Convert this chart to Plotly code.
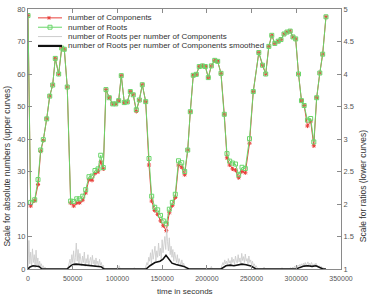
import plotly.graph_objects as go

# ---------------- data ----------------
time_s = [0, 3000, 7500, 11200, 14200, 17100, 20900, 24300, 27600, 30500,
          34300, 37700, 40600, 43900, 47700, 51100, 54500, 57800, 61200, 64500,
          68200, 71600, 74900, 78300, 81300, 84200, 87200, 90900, 94700, 98100,
          101400, 104300, 107700, 111000, 114400, 117700, 121100, 124500, 127800, 131600,
          135300, 138300, 141700, 145000, 148200, 151300, 154600, 158000, 161400, 164700,
          168300, 171900, 175200, 178600, 181500, 184800, 188200, 191500, 195100, 198300,
          201600, 205000, 208800, 212100, 215800, 219500, 222500, 225500, 228700, 232000,
          235600, 239300, 243000, 247700, 251900, 258100, 262200, 265800, 269300, 272600,
          276000, 279800, 282900, 286300, 289600, 293200, 296300, 299300, 302500, 305800,
          308800, 312500, 316100, 319600, 322800, 326300, 329500, 333200]

components = [78.0, 19.4, 21.0, 26.0, 36.2, 39.6, 46.2, 53.2, 56.6, 64.8,
              60.0, 68.0, 67.6, 56.0, 20.3, 19.4, 20.3, 20.4, 21.2, 23.4,
              27.5, 27.3, 29.4, 29.9, 33.0, 30.8, 55.2, 52.7, 50.8, 50.8,
              51.8, 59.5, 51.2, 51.4, 54.6, 53.6, 48.5, 52.0, 56.7, 51.5,
              32.0, 20.9, 18.0, 16.8, 14.8, 13.3, 11.8, 17.3, 19.5, 22.0,
              32.0, 31.3, 29.0, 36.6, 48.4, 59.6, 59.9, 62.3, 62.5, 62.3,
              58.9, 62.5, 64.2, 63.9, 60.2, 47.6, 34.2, 32.0, 30.8, 30.4,
              28.1, 30.0, 29.6, 38.7, 54.6, 66.6, 62.7, 60.0, 68.5, 71.9,
              69.4, 70.1, 70.6, 72.3, 72.9, 73.2, 71.4, 70.8, 60.0, 51.8,
              50.3, 44.0, 45.5, 37.9, 52.7, 60.3, 66.1, 77.6]

roots = [78.0, 20.5, 21.3, 27.5, 36.6, 39.8, 46.2, 53.2, 56.6, 64.8,
         60.0, 68.0, 67.6, 56.0, 20.9, 20.8, 21.6, 21.6, 22.4, 24.4,
         28.4, 28.6, 30.3, 30.8, 35.0, 31.2, 55.2, 52.7, 50.8, 50.8,
         51.8, 59.5, 51.2, 51.4, 54.6, 53.6, 49.0, 52.0, 56.7, 51.5,
         34.0, 22.4, 19.0, 18.2, 16.5, 14.8, 13.9, 18.4, 20.5, 23.0,
         33.3, 32.7, 30.0, 36.6, 48.4, 59.6, 59.9, 62.3, 62.5, 62.3,
         58.9, 62.5, 64.2, 63.9, 60.2, 47.6, 35.5, 33.2, 32.6, 32.3,
         29.0, 31.3, 30.9, 40.1, 54.6, 66.6, 62.7, 60.0, 68.5, 71.9,
         69.4, 70.1, 70.6, 72.3, 72.9, 73.2, 71.4, 70.8, 60.0, 51.8,
         50.3, 45.8, 46.3, 39.1, 52.7, 60.3, 66.1, 77.6]

# raw ratio (roots per components), sampled every 1000 s inside bursts
ratio_step_s = 1000
ratio_burst_start = [0, 44000, 99000, 118000, 131000, 204000, 215000, 263000, 283000, 292000]
ratio_burst_values = [
    [1.00, 1.44, 1.08, 1.26, 1.03, 1.31, 1.10, 1.22, 1.02, 1.29, 1.06, 1.17, 1.02, 1.12, 1.04,
     1.08, 1.01, 1.05, 1.00, 1.03, 1.00],
    [1.00, 1.03, 1.08, 1.15, 1.05, 1.22, 1.10, 1.28, 1.06, 1.18, 1.40, 1.12, 1.30, 1.08, 1.24,
     1.15, 1.05, 1.20, 1.10, 1.26, 1.04, 1.16, 1.09, 1.22, 1.05, 1.13, 1.18, 1.06, 1.21, 1.08,
     1.14, 1.03, 1.17, 1.07, 1.12, 1.04, 1.15, 1.06, 1.10, 1.03, 1.06, 1.02, 1.00],
    [1.00, 1.03, 1.00, 1.05, 1.00],
    [1.00, 1.02, 1.00],
    [1.00, 1.04, 1.10, 1.06, 1.18, 1.12, 1.25, 1.08, 1.30, 1.15, 1.22, 1.35, 1.12, 1.28, 1.18,
     1.40, 1.20, 1.32, 1.15, 1.45, 1.25, 1.38, 1.50, 1.30, 1.63, 1.42, 1.28, 1.48, 1.22, 1.35,
     1.18, 1.30, 1.12, 1.26, 1.20, 1.10, 1.22, 1.08, 1.16, 1.12, 1.05, 1.14, 1.06, 1.09, 1.03,
     1.00],
    [1.00, 1.04, 1.00],
    [1.00, 1.02, 1.05, 1.10, 1.06, 1.14, 1.08, 1.12, 1.05, 1.16, 1.09, 1.13, 1.06, 1.18, 1.10,
     1.15, 1.07, 1.20, 1.12, 1.09, 1.22, 1.11, 1.17, 1.08, 1.24, 1.13, 1.19, 1.10, 1.23, 1.12,
     1.16, 1.08, 1.20, 1.10, 1.14, 1.06, 1.12, 1.05, 1.08, 1.03, 1.05, 1.01, 1.00],
    [1.00, 1.03, 1.00],
    [1.00, 1.02, 1.00],
    [1.00, 1.01, 1.02, 1.00, 1.03, 1.01, 1.04, 1.02, 1.05, 1.03, 1.06, 1.04, 1.07, 1.05, 1.08,
     1.04, 1.09, 1.06, 1.10, 1.05, 1.08, 1.11, 1.06, 1.09, 1.05, 1.10, 1.07, 1.04, 1.08, 1.05,
     1.09, 1.04, 1.06, 1.03, 1.05, 1.02, 1.04, 1.01, 1.02, 1.00, 1.00],
]

smooth_time_s = [0, 2200, 5600, 9000, 12300, 15700, 43600, 47000, 50300, 53700,
                 57000, 62600, 69300, 76000, 81600, 85000, 132000, 136400, 142000, 147600,
                 151000, 154300, 157700, 161000, 165500, 170000, 174400, 180000, 215800, 221400,
                 225900, 230300, 234800, 239300, 243800, 249400, 255000, 299700, 304100, 308600,
                 313000, 317600, 322000, 326500, 329900, 333200]
smooth_ratio = [1.0, 1.03, 1.05, 1.05, 1.04, 1.0, 1.0, 1.04, 1.07, 1.075,
                1.07, 1.06, 1.05, 1.045, 1.035, 1.0, 1.0, 1.05, 1.10, 1.12,
                1.15, 1.21, 1.15, 1.09, 1.07, 1.05, 1.04, 1.0, 1.0, 1.05,
                1.06, 1.05, 1.06, 1.075, 1.065, 1.045, 1.0, 1.0, 1.025, 1.045,
                1.05, 1.04, 1.05, 1.02, 1.0, 1.0]

x_ticks = [0, 50000, 100000, 150000, 200000, 250000, 300000, 350000]
x_tick_labels = ["0", "50000", "100000", "150000", "200000", "250000", "300000", "350000"]
y_ticks = [0, 10, 20, 30, 40, 50, 60, 70, 80]
y2_ticks = [1, 1.5, 2, 2.5, 3, 3.5, 4, 4.5, 5]
y2_tick_labels = ["1", "1.5", "2", "2.5", "3", "3.5", "4", "4.5", "5"]

legend_names = ["number of Components", "number of Roots",
                "number of Roots per number of Components",
                "number of Roots per number of Components smoothed"]

# ---------------- styling ----------------
RED = "#e8413c"
GREEN = "#6ad66a"
GREY = "#cdcdcd"
BLACK = "#111111"
AXIS = "#8a8a8a"
TXT = "#555555"
FONT = "Liberation Sans"

ratio_t, ratio_v = [], []
for start, vals in zip(ratio_burst_start, ratio_burst_values):
    for i, v in enumerate(vals):
        ratio_t.append(start + i * ratio_step_s)
        ratio_v.append(v)

fig = go.Figure()
fig.add_trace(go.Scatter(x=time_s, y=components, mode="lines+markers", name=legend_names[0],
                         line=dict(color=RED, width=1),
                         marker=dict(symbol="asterisk-open", size=3.5, color=RED,
                                     line=dict(color=RED, width=1))))
fig.add_trace(go.Scatter(x=time_s, y=roots, mode="lines+markers", name=legend_names[1],
                         line=dict(color=GREEN, width=1),
                         marker=dict(symbol="square-open", size=4, color=GREEN,
                                     line=dict(color=GREEN, width=1))))
fig.add_trace(go.Scatter(x=ratio_t, y=ratio_v, mode="lines", name=legend_names[2],
                         line=dict(color=GREY, width=0.9), yaxis="y2"))
fig.add_trace(go.Scatter(x=smooth_time_s, y=smooth_ratio, mode="lines", name=legend_names[3],
                         line=dict(color=BLACK, width=1.6), yaxis="y2"))

# plot-area geometry in pixels (for legend / titles placement)
PL, PR, PT, PB = 28, 341, 5, 269
W, H = 369, 295


def px_x(px):
    return (px - PL) / (PR - PL)


def px_y(py):
    return (PB - py) / (PB - PT)


shapes = []
annotations = []
rows = [14, 23.5, 33, 42.5]
colors = [RED, GREEN, GREY, BLACK]
widths = [1, 1, 1, 2.2]
for name, py, c, w in zip(legend_names, rows, colors, widths):
    shapes.append(dict(type="line", xref="paper", yref="paper",
                       x0=px_x(38), x1=px_x(62), y0=px_y(py), y1=px_y(py),
                       line=dict(color=c, width=w)))
    annotations.append(dict(text=name, xref="paper", yref="paper", x=px_x(66), y=px_y(py),
                            xanchor="left", yanchor="middle", showarrow=False,
                            font=dict(family=FONT, size=8, color="#333333")))
# legend marker glyphs
cx, cy = 49, rows[0]
for dx0, dy0, dx1, dy1 in [(-1.8, 0, 1.8, 0), (0, -1.8, 0, 1.8), (-1.4, -1.4, 1.4, 1.4), (-1.4, 1.4, 1.4, -1.4)]:
    shapes.append(dict(type="line", xref="paper", yref="paper",
                       x0=px_x(cx + dx0), x1=px_x(cx + dx1), y0=px_y(cy + dy0), y1=px_y(cy + dy1),
                       line=dict(color=RED, width=1)))
cx, cy = 50, rows[1]
shapes.append(dict(type="rect", xref="paper", yref="paper",
                   x0=px_x(cx - 2), x1=px_x(cx + 2), y0=px_y(cy + 2), y1=px_y(cy - 2),
                   line=dict(color=GREEN, width=1), fillcolor="rgba(0,0,0,0)"))

annotations.append(dict(text="Scale for absolute numbers (upper curves)", xref="paper", yref="paper",
                        x=px_x(7), y=px_y(165), textangle=-90, showarrow=False,
                        xanchor="center", yanchor="middle",
                        font=dict(family=FONT, size=8.5, color="#333333")))
annotations.append(dict(text="Scale for ratios (lower curves)", xref="paper", yref="paper",
                        x=px_x(363), y=px_y(185), textangle=-90, showarrow=False,
                        xanchor="center", yanchor="middle",
                        font=dict(family=FONT, size=8.5, color="#333333")))
annotations.append(dict(text="time in seconds", xref="paper", yref="paper",
                        x=px_x(185), y=px_y(292), showarrow=False,
                        xanchor="center", yanchor="middle",
                        font=dict(family=FONT, size=8, color="#333333")))

axis_common = dict(showgrid=False, zeroline=False, showline=True, linecolor=AXIS, linewidth=1,
                   ticks="inside", ticklen=4, tickcolor=AXIS, tickwidth=1)

fig.update_layout(
    width=W, height=H,
    margin=dict(l=PL, r=W - PR, t=PT, b=H - PB, pad=0),
    paper_bgcolor="white", plot_bgcolor="white",
    showlegend=False,
    shapes=shapes, annotations=annotations,
    xaxis=dict(range=[0, 350000], tickvals=x_ticks, ticktext=x_tick_labels, mirror="ticks",
               tickfont=dict(family=FONT, size=7, color=TXT), ticklabelstandoff=3,
               **axis_common),
    yaxis=dict(range=[0, 80], tickvals=y_ticks, mirror=True,
               tickfont=dict(family=FONT, size=7.5, color=TXT), **axis_common),
    yaxis2=dict(range=[1, 5], tickvals=y2_ticks, ticktext=y2_tick_labels, overlaying="y",
                side="right", tickfont=dict(family=FONT, size=7.5, color=TXT), **axis_common),
)

fig.write_html("out.html")
